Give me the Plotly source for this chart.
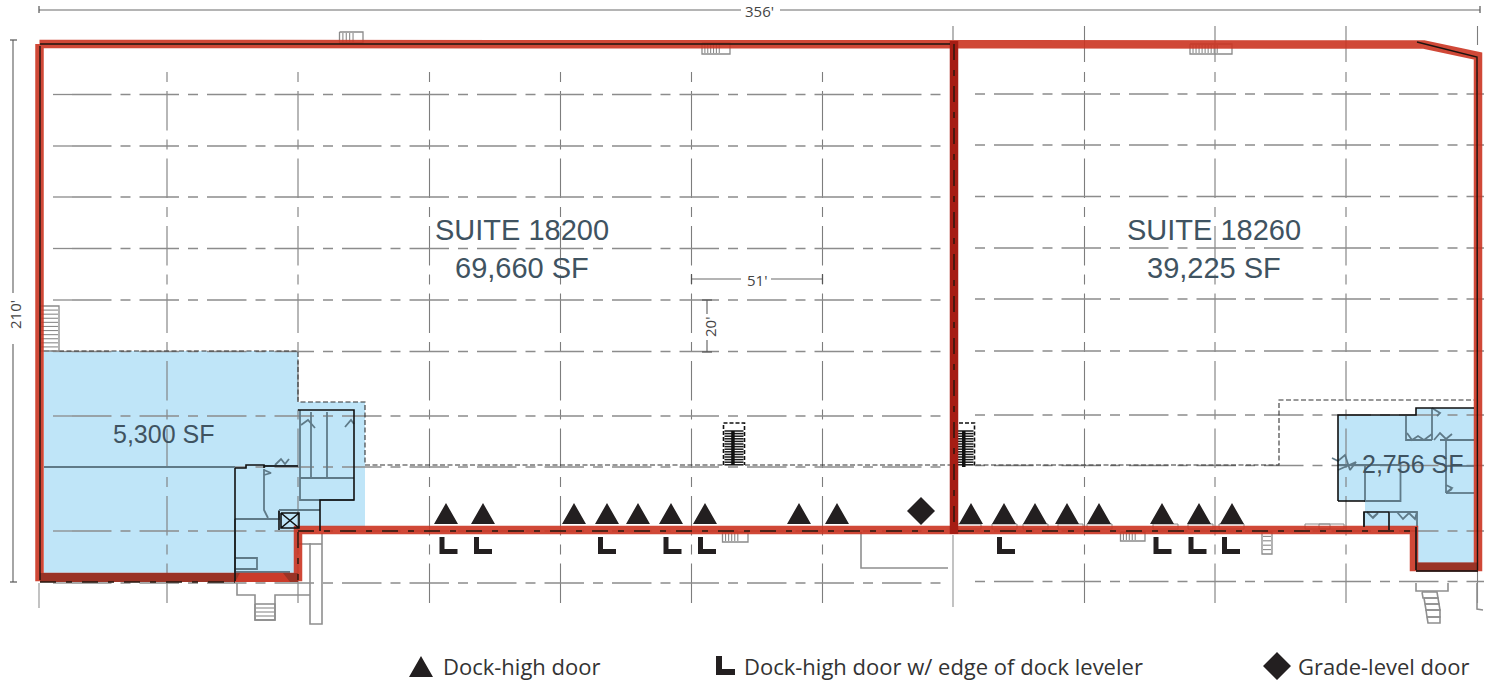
import plotly.graph_objects as go

# ---------- data (read from the plan) ----------
grid_x_left = [167, 298, 429.5, 560.5, 691.5, 822.5]
grid_x_right = [953, 1084.5, 1215, 1346, 1477.5]
grid_y_left = [94.5, 146, 197, 248.5, 300, 351.5, 416, 467, 531, 583]
grid_y_right = [94, 145, 196.5, 248, 299, 351, 415, 465.5, 531, 581.5]

dock_high_x = [446, 483, 574, 607, 638, 671, 705, 799, 837, 971, 1004, 1035, 1067, 1099, 1162, 1199, 1232]
leveler_x = [439.5, 474, 598, 663.5, 698, 997, 1153.5, 1188.5, 1222]
grade_level_x = [921]

labels = ["SUITE 18200", "69,660 SF", "SUITE 18260", "39,225 SF", "5,300 SF", "2,756 SF"]
label_x = [522, 522, 1214, 1214, 163, 1412]
label_y = [230, 268, 230, 268, 434, 464]
label_size = [29, 29, 29, 29, 25, 25]

legend_labels = ["Dock-high door", "Dock-high door w/ edge of dock leveler", "Grade-level door"]
legend_text_x = [441, 742, 1296]

office_left = [[44, 298, 298, 365, 365, 298, 298, 44, 44], [351, 351, 402, 402, 527, 527, 574, 574, 351]]
office_right = [[1338, 1416, 1416, 1474, 1474, 1416, 1416, 1365, 1365, 1338, 1338],
                [415, 415, 408, 408, 566, 566, 527, 527, 501, 501, 415]]

wall_main = [[39.5, 953, 1424, 1478, 1478, 1414, 1414, 298, 298, 39.5, 39.5],
             [44, 44, 44.5, 56, 567, 567, 530, 530, 577, 577, 44]]
wall_mid = [[954, 954], [41, 534]]
wall_dark_l = [[40, 298], [577.5, 577.5]]
wall_dark_r = [[1416, 1478], [567, 567]]

core_black = [
    [[40, 40], [46, 580]],
    [[40, 360], [44, 44]],
    [[360, 950], [44, 44]],
    [[1417, 1477, 1477.5], [42, 57, 570]],
]
core_dash = [
    [[40, 235], [582, 582]],
    [[298, 950], [531, 531]],
    [[958, 1416], [531, 531]],
    [[954, 954], [44, 530]],
    [[298, 298], [532, 580]],
]

dashed_border = [
    [[44, 298, 298, 365, 365, 723], [351, 351, 402, 402, 465, 465]],
    [[745, 952], [465, 465]],
    [[976, 1279, 1279, 1474], [465, 465, 400, 400]],
]

blue_gray = "#5f7a88"
room_lines = [
    [[44, 235], [467, 467]], [[264, 298], [466, 466]], [[264, 264, 268], [469, 510, 518]],
    [[1406, 1406, 1432], [416, 440, 440]], [[1432, 1432], [408, 440]],
    [[1446, 1446], [440, 493]], [[1440, 1474], [440, 440]], [[1446, 1474], [466, 466]], [[1446, 1474], [493, 493]],
    [[1338, 1400.5, 1400.5, 1365, 1365], [465, 465, 501, 501, 465]],
    [[1390, 1417, 1417], [512, 512, 527]], [[1364, 1364], [512, 527]],
    [[235, 279, 279], [519, 519, 510]], [[279, 320], [510, 510]],
    [[235, 235, 290], [519, 572, 572]], [[235, 257, 257, 235], [558, 558, 569, 569]],
    [[300, 300, 354], [410, 500, 500]], [[300, 354], [478, 478]],
    [[1397, 1403, 1409, 1415, 1417], [512, 519, 513, 519, 512]],
    [[1367, 1373, 1378, 1372], [512, 518, 513, 518]],
    [[1332, 1338, 1345, 1350, 1356, 1338], [458, 461, 455, 470, 462, 470]],
    [[1407, 1412, 1418, 1424, 1432], [433, 440, 436, 440, 434]],
    [[1432, 1440, 1437], [408, 413, 416]], [[1434, 1440, 1446, 1452], [440, 433, 439, 434]],
    [[1446, 1452, 1446, 1452], [485, 488, 493, 489]],
    [[264, 271, 264], [470, 473, 475]], [[275, 281, 285, 289], [465, 459, 464, 459]],
    [[301, 308, 315], [425, 420, 428]], [[345, 351, 354], [427, 420, 424]],
    [[311, 311], [412, 478]], [[327, 327], [412, 478]],
]
room_black = [
    [[235, 235], [468, 581]], [[235, 246, 246, 264, 264], [468, 468, 465, 465, 468]],
    [[264, 298], [466, 466]], [[298, 354, 354, 320, 320], [410, 410, 500, 500, 531]],
    [[1338, 1338, 1416, 1416, 1474], [501, 415, 415, 408, 408]], [[1338, 1365], [501, 501]],
    [[1364, 1364, 1389, 1389], [527, 512, 512, 530]],
    [[1416, 1416], [527, 570]], [[1416, 1478], [571, 571]],
    [[279, 279], [511, 530]], [[281, 299, 299, 281, 281, 299, 281, 299], [513, 513, 528, 528, 513, 528, 528, 513]],
]
outside_gray = [
    [[237, 237, 255, 255, 275, 275, 310], [583, 595, 595, 620, 620, 595, 595]],
    [[310, 310, 322, 322], [543, 624, 624, 533]], [[298, 322], [544, 544]],
    [[861, 861, 948], [532, 568, 568]],
    [[1416, 1416, 1448, 1448], [583, 591, 591, 583]],
    [[1477, 1477, 1483], [583, 609, 610]],
    [[1422, 1437, 1438, 1423, 1422], [592, 592, 598, 598, 592]],
    [[1424, 1438, 1439, 1425, 1424], [598, 598, 604, 604, 598]],
    [[1425, 1439, 1440, 1426, 1425], [604, 604, 610, 610, 604]],
    [[1426, 1440, 1440, 1427, 1426], [610, 610, 617, 617, 610]],
    [[1427, 1440, 1440, 1428, 1427], [617, 617, 623, 623, 617]],
]
# stair boxes: left, right, top, bottom
stair_boxes = [
    (339.5, 363, 32, 43), (702, 730, 43, 54), (1190, 1232, 44, 54), (722.5, 748, 532, 542),
    (1120.5, 1145, 532, 541), (1262, 1272, 532, 554), (40, 59, 306, 351), (255, 275, 604, 620),
]
stair_hatch_vertical = [True, True, True, True, True, False, False, False]
door_boxes_x = [956, 992, 1023, 1058, 1087, 1153, 1188, 1219, 1305, 1319]
stack_boxes = [(723.5, 744.5, 423, 465), (955, 974.5, 423, 467)]

dim_lines = [
    [[39, 741], [10, 10]], [[780, 1480], [10, 10]],
    [[13, 13], [40, 293]], [[13, 13], [344, 582]],
    [[691.5, 741], [279, 279]], [[771, 822.5], [279, 279]],
    [[707, 707], [300, 314]], [[707, 707], [340, 352]],
]
dim_ticks = [
    [[39, 39], [6, 13]], [[1480, 1480], [6, 13]], [[10, 17], [40, 40]], [[10, 17], [582, 582]],
    [[691.5, 691.5], [274, 284]], [[822.5, 822.5], [274, 284]], [[702, 712], [300, 300]], [[702, 712], [352, 352]],
]
dim_labels = ["356'", "210'", "51'", "20'"]
dim_x = [759, 15, 757, 710]
dim_y = [11, 315, 280, 327]
dim_angle = [0, -90, 0, -90]

RED = "rgba(203,52,33,0.90)"
INK = "#231f20"
BLUE = "#bfe5f8"


# ---------- helpers ----------
def merged(polys):
    xs, ys = [], []
    for px, py in polys:
        xs += list(px) + [None]
        ys += list(py) + [None]
    return xs, ys


fig = go.Figure()


def lines(polys, color, width, dash="solid", op=1.0):
    xs, ys = merged(polys)
    fig.add_trace(go.Scatter(x=xs, y=ys, mode="lines", opacity=op, hoverinfo="skip",
                             line=dict(color=color, width=width, dash=dash)))


def poly(polys, color):
    xs, ys = merged(polys)
    fig.add_trace(go.Scatter(x=xs, y=ys, mode="lines", fill="toself", fillcolor=color,
                             hoverinfo="skip", line=dict(width=0, color=color)))


def box(l, r, t, b):
    return [[l, r, r, l, l], [t, t, b, b, t]]


def triangle(cx, base=524, w=24, h=21):
    return [[cx - w / 2, cx + w / 2, cx, cx - w / 2], [base, base, base - h, base]]


def ell(left, top=537, w=18, h=17, t=5):
    return [[left, left + t, left + t, left + w, left + w, left, left],
            [top, top, top + h - t, top + h - t, top + h, top + h, top]]


def diamond(cx, cy=511, r=14):
    return [[cx - r, cx, cx + r, cx, cx - r], [cy, cy - r, cy, cy + r, cy]]


# ---------- office fill ----------
poly([office_left, office_right], BLUE)

# ---------- column grid ----------
GV = "#7d7d7d"
GH = "#8c8c8c"
VD = "10px,9px,39.5px,9px"
HD = "39.5px,9px,10px,9px"
lines([[[x, x], [72, 607]] for x in grid_x_left], GV, 1.1, VD)
lines([[[x, x], [72, 607]] for x in grid_x_right[1:]], GV, 1.1, VD)
lines([[[39, 39], [583, 608]], [[953, 953], [535, 607]]], "#9a9a9a", 1.2)
lines([[[1346, 1346], [26, 62]], [[1477.5, 1477.5], [26, 45]], [[1084.5, 1084.5], [26, 62]],
       [[1215, 1215], [26, 62]], [[953, 953], [26, 40]]], GV, 1.1)
lines([[[53, 72], [y, y]] for y in grid_y_left], GH, 1.3)
lines([[[72, 948], [y, y]] for y in grid_y_left], GH, 1.3, HD)
lines([[[975, 1484], [y, y]] for y in grid_y_right], GH, 1.3, "10px,9px,39.5px,9px")

# ---------- thin site and room detail ----------
lines(outside_gray, "#8f8f8f", 1.6)
lines(dashed_border, "#333333", 1.1, "5px,2.5px")
lines(room_lines, blue_gray, 1.8)

# ---------- stairs ----------
stair_polys, hatch_polys = [], []
for (l, r, t, b), vertical in zip(stair_boxes, stair_hatch_vertical):
    stair_polys.append(box(l, r, t, b))
    if vertical:
        n = max(3, int((r - l) / 4))
        for i in range(1, n):
            xh = l + (r - l) * i / n * 0.72
            hatch_polys.append([[xh, xh], [t + 1, b - 1]])
    else:
        n = max(3, int((b - t) / 4))
        for i in range(1, n):
            yh = t + (b - t) * i / n
            hatch_polys.append([[l + 1, r - 1], [yh, yh]])
lines(stair_polys, "#8a8a8a", 1.3)
lines(hatch_polys, "#8a8a8a", 1.1)

# door frames beside the dock-high doors
lines([box(x, x + 25, 524, 529) for x in door_boxes_x], "#8a8a8a", 1.0)

# ---------- restroom stacks ----------
stack_hatch = []
for l, r, t, b in stack_boxes:
    y = t + 8
    while y < b:
        stack_hatch.append([[l + 1, r - 1], [y, y]])
        y += 2.6
lines([[[l, l, r, r], [b, t, t, b]] for l, r, t, b in stack_boxes], "#111111", 1.6, "4px,2px")
lines(stack_hatch, "#1a1a1a", 1.5)
lines([[[l + (r - l) * 0.45, l + (r - l) * 0.45], [t + 8, b]] for l, r, t, b in stack_boxes], "#111111", 3.5)

# ---------- walls ----------
lines([wall_main], RED, 8.5)
lines([wall_dark_l, wall_dark_r], "#9a3326", 9)
poly([[[240, 283, 290, 235, 240], [573, 573, 582, 582, 573]]], "#cb3b2a")
lines([wall_mid], "#a61d14", 8.5)
lines(core_black, "#1c1410", 1.4)
lines(core_dash, "#26170f", 1.4, "16px,10px,6px,10px")
lines(room_black, "#111111", 1.6)

# ---------- symbols ----------
poly([triangle(x) for x in dock_high_x], INK)
poly([ell(x) for x in leveler_x], INK)
poly([diamond(x) for x in grade_level_x], INK)
poly([triangle(421, base=677), ell(716, top=656, w=19, h=19, t=6), diamond(1277, cy=666)], INK)

# ---------- dimensions ----------
lines(dim_lines, "#6a6a6a", 1.2)
lines(dim_ticks, "#555555", 1.2)

annotations = []
for t, x, y, s in zip(labels, label_x, label_y, label_size):
    annotations.append(dict(x=x, y=y, text=t, showarrow=False, xanchor="center", yanchor="middle",
                            font=dict(family="Liberation Sans", size=s, color="#3f5361")))
for t, x, y, a in zip(dim_labels, dim_x, dim_y, dim_angle):
    annotations.append(dict(x=x, y=y, text=t, showarrow=False, textangle=a, xanchor="center", yanchor="middle",
                            font=dict(family="Open Sans", size=15, color="#444444")))
for t, x in zip(legend_labels, legend_text_x):
    annotations.append(dict(x=x, y=666, text=t, showarrow=False, xanchor="left", yanchor="middle",
                            font=dict(family="Open Sans", size=22, color="#333333")))

fig.update_layout(
    width=1494, height=682, margin=dict(l=0, r=0, t=0, b=0), showlegend=False,
    paper_bgcolor="white", plot_bgcolor="white", annotations=annotations,
    xaxis=dict(range=[0, 1494], visible=False, fixedrange=True),
    yaxis=dict(range=[682, 0], visible=False, fixedrange=True),
)
fig.write_html("out.html", post_script="document.body.style.margin='0';document.body.style.overflow='hidden';",
               config={"displayModeBar": False})
